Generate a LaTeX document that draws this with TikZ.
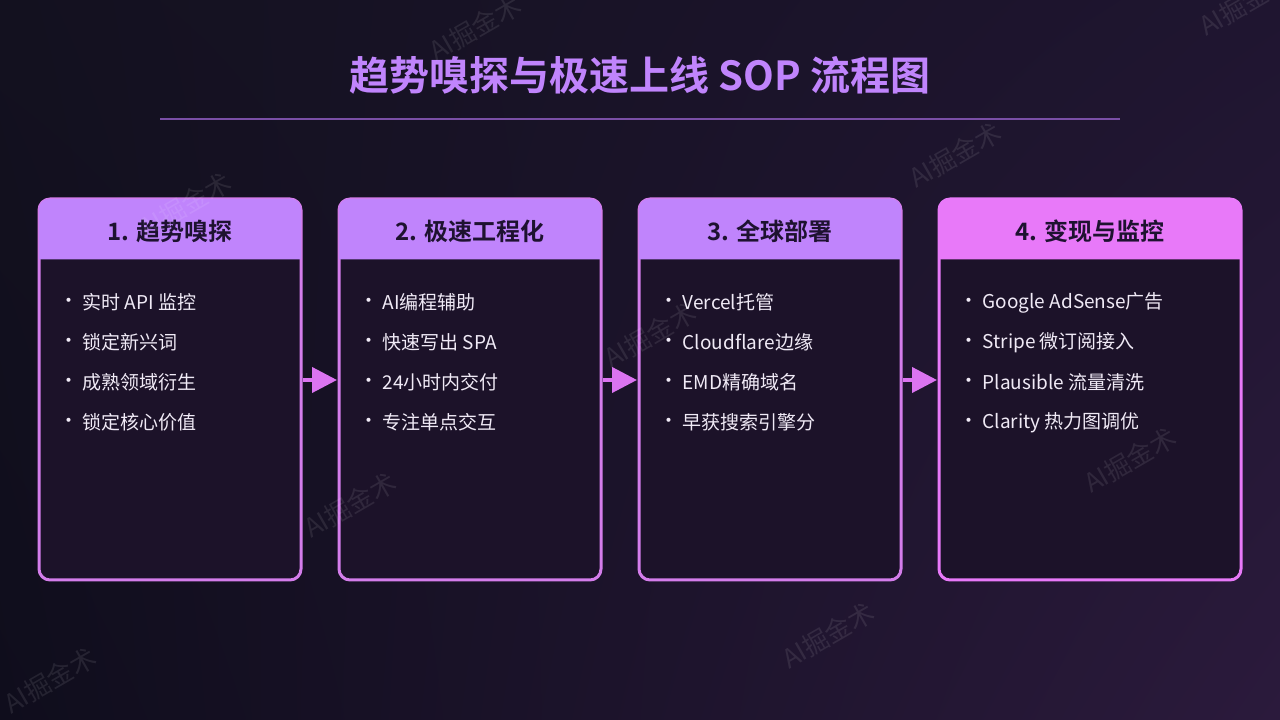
\documentclass[tikz,border=0pt]{standalone}
\usepackage{fontspec}
\setmainfont{Noto Sans CJK SC}
\newfontfamily\cjkb{Noto Sans CJK SC Bold}
\usetikzlibrary{arrows.meta,calc,shadings}
\definecolor{bgA}{HTML}{13111F}
\definecolor{bgB}{HTML}{1F1530}
\definecolor{bgC}{HTML}{0F0D1C}
\definecolor{bgD}{HTML}{2B1A3C}
\definecolor{titlec}{HTML}{C084FC}
\definecolor{rulec}{HTML}{7A4FA6}
\definecolor{bodyc}{HTML}{1C1229}
\definecolor{borderA}{HTML}{D47DEB}
\definecolor{borderB}{HTML}{E879F9}
\definecolor{headA}{HTML}{C084FC}
\definecolor{headB}{HTML}{E879F9}
\definecolor{headtext}{HTML}{1E1230}
\definecolor{itemc}{HTML}{F0EAF6}
\definecolor{arrowc}{HTML}{DB74F0}
\tikzset{
  x=1pt,y=1pt,
  box/.style={draw=borderA, line width=3pt, fill=bodyc, rounded corners=11pt, minimum height=381pt, inner sep=0pt},
  headlabel/.style={font=\cjkb\fontsize{24}{28}\selectfont, text=headtext, anchor=center},
  item/.style={font=\fontsize{19}{22}\selectfont, text=itemc, anchor=west, inner sep=0pt},
  bullet/.style={font=\fontsize{19}{22}\selectfont, text=itemc, anchor=center, inner sep=0pt},
  flow/.style={draw=arrowc, line width=4pt, -{Triangle[length=25pt,width=25pt]}},
  wm/.style={font=\fontsize{26}{30}\selectfont, text=white, text opacity=0.09, rotate=30},
}
\begin{document}
\begin{tikzpicture}
\useasboundingbox (0,0) rectangle (1280,720);
\shade[upper left=bgA, upper right=bgB, lower left=bgC, lower right=bgD] (0,0) rectangle (1280,720);

% title
\node[font=\cjkb\fontsize{40}{46}\selectfont, text=titlec] (title) at (640,645) {趋势嗅探与极速上线 SOP 流程图};
\coordinate (ruleL) at (160,601);
\coordinate (ruleR) at (1120,601);
\draw[rulec, line width=1.8pt] (ruleL) -- (ruleR);

% boxes
\node[box, minimum width=262pt] (b1) at (170,330.5) {};
\node[box, minimum width=262pt] (b2) at (470,330.5) {};
\node[box, minimum width=262pt] (b3) at (770,330.5) {};
\node[box, minimum width=302pt, draw=borderB] (b4) at (1090,330.5) {};

% headers
\foreach \b/\c in {b1/headA,b2/headA,b3/headA,b4/headB}{
  \fill[\c] ($(\b.north west)+(1.5,-62)$) -- ($(\b.north west)+(1.5,-11.5)$)
     arc(180:90:10) -- ($(\b.north east)+(-11.5,-1.5)$) arc(90:0:10)
     -- ($(\b.north east)+(-1.5,-62)$) -- cycle;
}
\node[headlabel] (h1) at ($(b1.north)+(0,-34)$) {1. 趋势嗅探};
\node[headlabel] (h2) at ($(b2.north)+(0,-34)$) {2. 极速工程化};
\node[headlabel] (h3) at ($(b3.north)+(0,-34)$) {3. 全球部署};
\node[headlabel] (h4) at ($(b4.north)+(0,-34)$) {4. 变现与监控};

% items
\foreach \b/\i/\t in {
  b1/1/实时 API 监控, b1/2/锁定新兴词, b1/3/成熟领域衍生, b1/4/锁定核心价值,
  b2/1/AI编程辅助, b2/2/快速写出 SPA, b2/3/24小时内交付, b2/4/专注单点交互,
  b3/1/Vercel托管, b3/2/Cloudflare边缘, b3/3/EMD精确域名, b3/4/早获搜索引擎分,
  b4/1/Google AdSense广告, b4/2/Stripe 微订阅接入, b4/3/Plausible 流量清洗, b4/4/Clarity 热力图调优}{
  \pgfmathsetmacro{\yy}{-105-40*(\i-1)}
  \node[bullet] (\b d\i) at ($(\b.north west)+(31,\yy)$) {·};
  \node[item] (\b t\i) at ($(\b.north west)+(45,\yy)$) {\t};
}

% connectors
\draw[flow] ($(b1.east)+(0,9.5)$) -- ($(b2.west)+(-0.5,9.5)$);
\draw[flow] ($(b2.east)+(0,9.5)$) -- ($(b3.west)+(-0.5,9.5)$);
\draw[flow] ($(b3.east)+(0,9.5)$) -- ($(b4.west)+(-0.5,9.5)$);

% watermarks
\foreach \p in {(185,515),(475,692),(1245,717),(650,385),(955,565),(350,215),(1130,260),(828,85),(50,40)}{
  \node[wm] at \p {AI掘金术};
}
\end{tikzpicture}
\end{document}
